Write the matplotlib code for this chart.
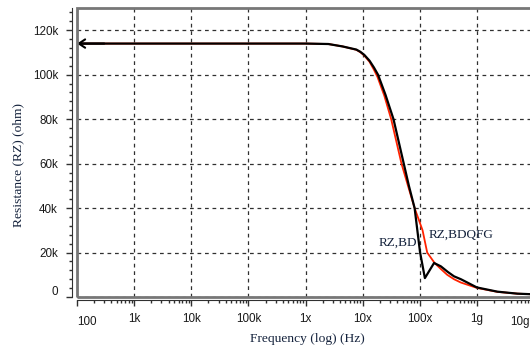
import matplotlib
matplotlib.use("Agg")
import matplotlib.pyplot as plt
import matplotlib.ticker as mticker
from matplotlib.patches import Rectangle

plt.rcParams["font.family"] = ["Liberation Sans", "DejaVu Sans"]

# frequency (Hz) and resistance (ohm)
freq_bd = [1e2, 1e4, 1e6, 2.51e6, 4.47e6, 7.76e6, 9.12e6, 1.07e7, 1.32e7,
           1.58e7, 1.86e7, 2.51e7, 3.47e7, 5.25e7, 6.46e7, 8.13e7, 1.01e8,
           1.23e8, 1.78e8, 2.34e8, 3.09e8, 3.98e8, 5.25e8, 1e9, 2.29e9,
           5.13e9, 1e10]
rz_bd = [114000, 114000, 114000, 113800, 112700, 111300, 110300, 108900,
         106300, 103200, 100000, 91000, 80000, 60000, 50000, 40000, 20300,
         8500, 15300, 13800, 11300, 9300, 8000, 4300, 2400, 1500, 1200]

freq_bdqfg = [1e2, 1e4, 1e6, 2.51e6, 4.47e6, 7.76e6, 9.12e6, 1.07e7, 1.32e7,
              1.58e7, 1.82e7, 2.4e7, 3.16e7, 4.79e7, 6.31e7, 8.13e7, 1.12e8,
              1.35e8, 1.82e8, 2.34e8, 3.02e8, 3.98e8, 5.25e8, 1e9, 2.29e9,
              5.13e9, 1e10]
rz_bdqfg = [114000, 114000, 114000, 113800, 112700, 111200, 110100, 108600,
            105800, 102200, 99000, 90500, 80000, 60000, 49500, 40000, 30000,
            20000, 15300, 12600, 10000, 8000, 6500, 4100, 2300, 1500, 1200]

x_ticks = [1e2, 1e3, 1e4, 1e5, 1e6, 1e7, 1e8, 1e9, 1e10]
x_labels = ["100", "1k", "10k", "100k", "1x", "10x", "100x", "1g", "10g"]
y_ticks = [0, 20000, 40000, 60000, 80000, 100000, 120000]
y_labels = ["0", "20k", "40k", "60k", "80k", "100k", "120k"]

serif = "Liberation Serif"
sans = "Liberation Sans"
txt_col = "#14223c"
lab_col = "#1a1a1a"
lab_size = 8.4

fig = plt.figure(figsize=(5.3, 3.5), dpi=100)
ax = fig.add_axes([77 / 530, 53 / 350, 457 / 530, 289 / 350])

ax.set_xscale("log")
ax.set_xlim(1e2, 1e10)
ax.set_ylim(0, 130000)

ax.plot(freq_bdqfg, rz_bdqfg, color="#ff2200", lw=1.3, zorder=3)
ax.plot(freq_bd, rz_bd, color="black", lw=1.6, zorder=4)
ax.annotate("", xy=(freq_bd[0], rz_bd[0]), xytext=(freq_bd[0] * 3, rz_bd[0]),
            arrowprops=dict(arrowstyle="->,head_length=0.45,head_width=0.3",
                            lw=1.5, color="black", shrinkA=0, shrinkB=0),
            zorder=5)

ax.text(1.88e7, 24200, "RZ,BD", family=serif, fontsize=9.5, color=txt_col,
        va="center", ha="left")
ax.text(1.44e8, 27800, "RZ,BDQFG", family=serif, fontsize=9.5, color=txt_col,
        va="center", ha="left")

# ticks; the end labels are placed by hand (offset like the original)
ax.set_xticks(x_ticks)
ax.set_xticklabels([""] + x_labels[1:-1] + [""])
ax.xaxis.set_minor_locator(mticker.LogLocator(base=10, subs=range(2, 10), numticks=20))
ax.xaxis.set_minor_formatter(mticker.NullFormatter())
ax.set_yticks(y_ticks)
ax.set_yticklabels([""] + y_labels[1:])
ax.yaxis.set_minor_locator(mticker.MultipleLocator(4000))

ax.tick_params(axis="both", which="major", length=4, width=1, color="#303030",
               labelsize=lab_size, labelcolor=lab_col)
ax.tick_params(axis="both", which="minor", length=2, width=1, color="#303030")
ax.tick_params(axis="y", which="major", pad=6)
ax.tick_params(axis="x", which="major", pad=5)

for xv, lab, dx in [(x_ticks[0], x_labels[0], 10), (x_ticks[-1], x_labels[-1], -14)]:
    ax.annotate(lab, xy=(xv, 0), xycoords=("data", "axes fraction"),
                xytext=(dx * 0.72, -25 * 0.72), textcoords="offset points",
                ha="center", va="center", fontsize=lab_size, color=lab_col,
                annotation_clip=False)
ax.annotate(y_labels[0], xy=(0, y_ticks[0]), xycoords=("axes fraction", "data"),
            xytext=(-19 * 0.72, 5 * 0.72), textcoords="offset points",
            ha="right", va="center", fontsize=lab_size, color=lab_col,
            annotation_clip=False)

# grid
ax.grid(True, which="major", color="#303030", lw=0.9, linestyle=(0, (3, 3)))
ax.set_axisbelow(True)

# axis lines offset from the plot frame
for s in ["top", "right"]:
    ax.spines[s].set_visible(False)
ax.spines["left"].set_position(("outward", 3.6))
ax.spines["bottom"].set_position(("outward", 2.4))
ax.spines["left"].set_color("#303030")
ax.spines["bottom"].set_color("#303030")
ax.add_patch(Rectangle((0, 0), 1, 1, transform=ax.transAxes, fill=False,
                       edgecolor="#777777", lw=2, clip_on=False, zorder=6))

fig.text(307 / 530, 1 - 339 / 350, "Frequency (log) (Hz)", family=serif,
         fontsize=9.7, color=txt_col, ha="center", va="center")
fig.text(18 / 530, 1 - 165 / 350, "Resistance (RZ) (ohm)", family=serif,
         fontsize=9.7, color=txt_col, ha="center", va="center", rotation=90)

fig.savefig("out.png", dpi=100)
